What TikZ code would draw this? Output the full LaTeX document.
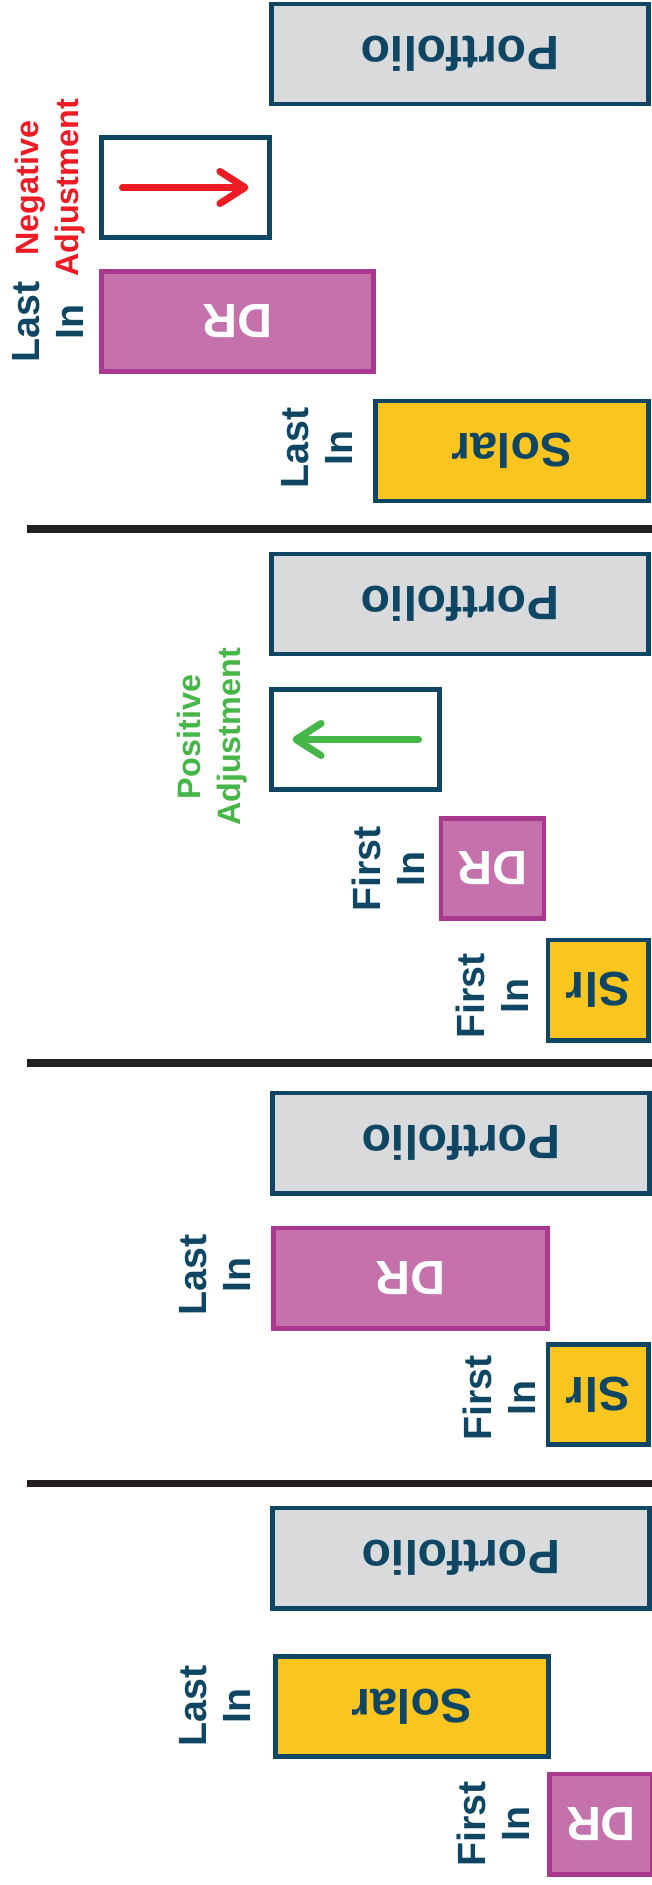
\documentclass[tikz,border=0pt]{standalone}
\usepackage{fontspec}
\setmainfont{Liberation Sans}
\usetikzlibrary{positioning}
\usetikzlibrary{arrows.meta}
\definecolor{navyLine}{HTML}{0E4663}
\definecolor{portGray}{HTML}{D9DADC}
\definecolor{solarYellow}{HTML}{FBC520}
\definecolor{drPurple}{HTML}{C471AC}
\definecolor{drBorder}{HTML}{A8398F}
\definecolor{negRed}{HTML}{ED1C24}
\definecolor{posGreen}{HTML}{46B648}
\definecolor{sepBlack}{HTML}{231F20}
\newcommand{\flip}[1]{\rotatebox[origin=c]{180}{#1}}
\tikzset{%
  % Specifications for style of nodes:
    baseBox/.style = {rectangle, draw=navyLine, line width=1.4pt, minimum height=1cm, inner sep=0, font=\fontsize{13.7}{15}\selectfont\bfseries},
    portBox/.style = {baseBox, fill=portGray, text=navyLine, minimum width=3.76cm},
    solarBox/.style = {baseBox, fill=solarYellow, text=navyLine},
    drBox/.style = {baseBox, draw=drBorder, fill=drPurple, text=white},
    adjBox/.style = {baseBox, fill=white, minimum width=1.67cm},
    inLabel/.style = {rotate=90, align=center, text=navyLine, font=\fontsize{11.2}{12.5}\selectfont\bfseries},
    adjLabel/.style = {rotate=90, align=center, font=\fontsize{9.2}{11.5}\selectfont\bfseries},
    adjArrow/.style = {line width=2pt, line cap=round, shorten <=0.23cm, shorten >=0.23cm, -{Straight Barb[length=2.5mm,width=3.2mm,round]}},
    sepLine/.style = {line width=2pt, draw=sepBlack},
}
\begin{document}
\begin{tikzpicture}[x=0.01cm, y=-0.01cm]
	\useasboundingbox (0,0) rectangle (652,1885);

	% negative adjustment
	\node [portBox] (port1) at (460,54) {\flip{Portfolio}};
	\node [adjBox] (negAdj) at (185.5,187.5) {};
	\draw [adjArrow, negRed] (negAdj.west) -- (negAdj.east);
	\node [adjLabel, text=negRed] (negLabel) at (50,188) {Negative\\Adjustment};
	\node [drBox, minimum width=2.71cm] (dr1) at (237.5,321.5) {\flip{DR}};
	\node [inLabel] (dr1Label) at (48,322) {Last\\In};
	\node [solarBox, minimum width=2.72cm] (solar1) at (512,451) {\flip{Solar}};
	\node [inLabel] (solar1Label) at (317,448) {Last\\In};

	\draw [sepLine] (27,529) -- (652,529);

	% positive adjustment
	\node [portBox] (port2) at (460,604) {\flip{Portfolio}};
	\node [adjBox] (posAdj) at (355.5,739.5) {};
	\draw [adjArrow, posGreen] (posAdj.east) -- (posAdj.west);
	\node [adjLabel, text=posGreen] (posLabel) at (212,737) {Positive\\Adjustment};
	\node [drBox, minimum width=1.03cm] (dr2) at (492.5,868.5) {\flip{DR}};
	\node [inLabel] (dr2Label) at (388,869) {First\\In};
	\node [solarBox, minimum width=1cm] (slr2) at (598,990) {\flip{Slr}};
	\node [inLabel] (slr2Label) at (492,996) {First\\In};

	\draw [sepLine] (27,1063) -- (652,1063);

	% DR last in
	\node [portBox] (port3) at (461,1143) {\flip{Portfolio}};
	\node [drBox, minimum width=2.73cm] (dr3) at (410.5,1278) {\flip{DR}};
	\node [inLabel] (dr3Label) at (215,1275) {Last\\In};
	\node [solarBox, minimum width=1cm] (slr3) at (598,1394.5) {\flip{Slr}};
	\node [inLabel] (slr3Label) at (499,1398) {First\\In};

	\draw [sepLine] (27,1483) -- (652,1483);

	% Solar last in
	\node [portBox] (port4) at (461,1558) {\flip{Portfolio}};
	\node [solarBox, minimum width=2.72cm] (solar4) at (412,1706.5) {\flip{Solar}};
	\node [inLabel] (solar4Label) at (215,1706) {Last\\In};
	\node [drBox, minimum width=1.03cm] (dr4) at (601,1824) {\flip{DR}};
	\node [inLabel] (dr4Label) at (493,1824) {First\\In};
\end{tikzpicture}
\end{document}
